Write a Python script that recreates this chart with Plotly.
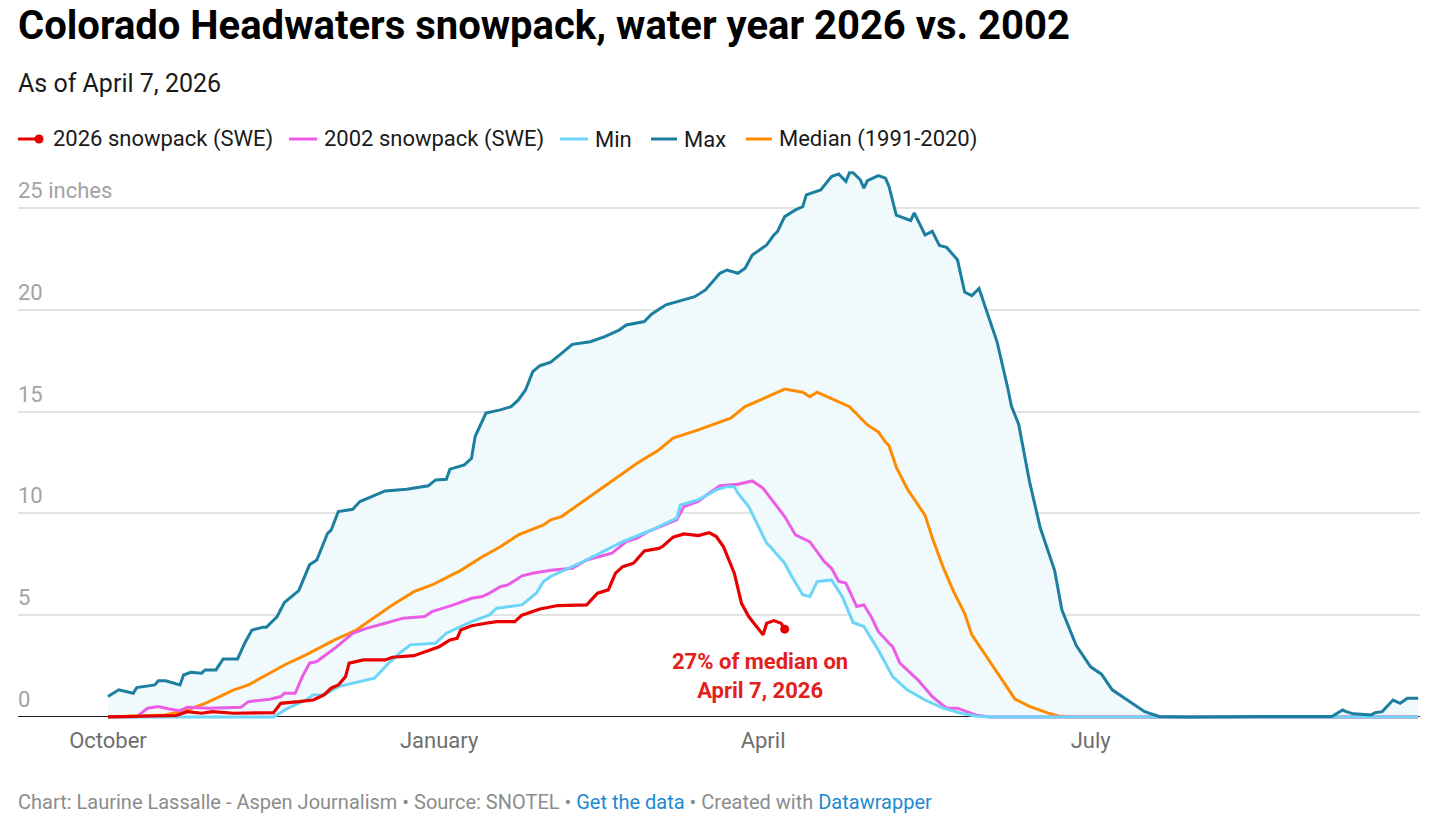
import plotly.graph_objects as go

# ---------------- data (day of water year: 0 = Oct 1, values in inches SWE) -------------
tick_days = [0, 92, 182, 273]
tick_labels = ["October", "January", "April", "July"]
y_ticks = [0, 5, 10, 15, 20, 25]
y_tick_labels = ["0", "5", "10", "15", "20", "25 inches"]

max_day = [0, 3, 7, 8, 13, 14, 16, 20, 21, 23, 26, 27, 30, 32, 36, 38, 40, 43, 44, 47,
           49, 53, 56, 58, 61, 62, 64, 68, 70, 74, 77, 83, 89, 91, 94, 95, 99, 101, 102, 105,
           109, 112, 114, 116, 118, 120, 123, 126, 129, 134, 138, 142, 144, 149, 151, 155, 163, 166, 170, 172,
           175, 177, 179, 183, 185, 186, 188, 191, 193, 194, 198, 201, 203, 205, 206, 207, 209, 210, 211, 214,
           216, 217, 219, 223, 224, 227, 229, 231, 233, 236, 238, 240, 242, 244, 247, 250, 251, 253, 256, 259,
           263, 265, 269, 273, 276, 279, 284, 288, 292, 300, 320, 340, 343, 344, 346, 351, 352, 354, 357, 359,
           361, 364]
max_val = [1.0, 1.33, 1.16, 1.44, 1.57, 1.78, 1.78, 1.57, 2.06, 2.19, 2.15, 2.31, 2.31, 2.85, 2.85, 3.63, 4.27, 4.4, 4.4, 4.93,
           5.62, 6.2, 7.47, 7.71, 9.02, 9.18, 10.09, 10.2, 10.58, 10.9, 11.1, 11.18, 11.35, 11.64, 11.67, 12.17, 12.38, 12.7, 13.77, 14.92,
           15.08, 15.24, 15.57, 16.06, 16.96, 17.25, 17.42, 17.86, 18.3, 18.43, 18.68, 19.0, 19.25, 19.42, 19.78, 20.24, 20.64, 20.97, 21.79, 21.95,
           21.79, 22.04, 22.69, 23.18, 23.67, 23.84, 24.57, 24.9, 25.06, 25.64, 25.88, 26.54, 26.67, 26.3, 26.73, 26.73, 26.38, 25.97, 26.34, 26.59,
           26.46, 26.04, 24.64, 24.38, 24.76, 23.67, 23.85, 23.15, 23.06, 22.45, 20.87, 20.69, 21.04, 19.99, 18.42, 16.13, 15.25, 14.38, 11.57, 9.29,
           7.19, 5.26, 3.5, 2.46, 2.1, 1.33, 0.75, 0.26, 0.02, 0.0, 0.02, 0.02, 0.34, 0.26, 0.15, 0.1, 0.21, 0.26, 0.83, 0.67,
           0.92, 0.92]

median_day = [0, 16, 22, 27, 35, 39, 44, 49, 55, 63, 69, 75, 79, 85, 90, 98, 104, 109, 114, 121,
              123, 126, 132, 139, 147, 153, 157, 164, 170, 173, 177, 183, 188, 193, 195, 197, 203, 206, 211, 214,
              216, 217, 219, 222, 227, 229, 232, 235, 238, 240, 244, 248, 252, 256, 261, 264, 268, 364]
median_val = [0, 0.1, 0.34, 0.67, 1.33, 1.57, 2.06, 2.55, 3.05, 3.78, 4.27, 5.01, 5.5, 6.15, 6.48, 7.2, 7.87, 8.36, 8.94, 9.43,
              9.68, 9.84, 10.58, 11.48, 12.46, 13.11, 13.69, 14.1, 14.5, 14.67, 15.24, 15.73, 16.1, 15.95, 15.73, 15.95, 15.46, 15.24, 14.34, 14.0,
              13.5, 13.32, 12.27, 11.22, 9.9, 8.8, 7.36, 6.13, 5.08, 4.03, 2.98, 1.92, 0.87, 0.52, 0.2, 0.05, 0, 0]

min_day = [0, 46, 50, 55, 57, 60, 64, 70, 74, 78, 81, 84, 91, 94, 97, 101, 106, 108, 115, 119,
           121, 123, 132, 143, 151, 158, 159, 164, 169, 172, 174, 175, 178, 183, 184, 188, 190, 193, 195, 197,
           201, 204, 207, 210, 214, 218, 222, 227, 232, 237, 241, 245, 364]
min_val = [0, 0, 0.43, 0.83, 1.08, 1.08, 1.49, 1.73, 1.9, 2.64, 3.13, 3.54, 3.62, 4.11, 4.36, 4.68, 5.01, 5.34, 5.5, 6.08,
           6.65, 6.9, 7.63, 8.61, 9.18, 9.76, 10.41, 10.66, 11.15, 11.31, 11.31, 10.99, 10.33, 8.53, 8.36, 7.55, 6.89, 6.0, 5.91, 6.65,
           6.73, 5.91, 4.64, 4.44, 3.29, 1.98, 1.33, 0.83, 0.43, 0.18, 0.05, 0, 0]

y2002_day = [0, 8, 11, 14, 17, 20, 22, 28, 37, 39, 45, 48, 49, 52, 54, 56, 58, 63, 68, 72,
             77, 82, 88, 90, 96, 101, 104, 106, 109, 111, 114, 115, 118, 123, 129, 133, 140, 144, 147, 150,
             154, 158, 160, 164, 167, 170, 175, 179, 182, 188, 191, 193, 195, 199, 201, 203, 205, 208, 210, 212,
             214, 217, 218, 220, 225, 229, 233, 236, 241, 245, 364]
y2002_val = [0, 0, 0.43, 0.51, 0.39, 0.31, 0.48, 0.43, 0.48, 0.75, 0.87, 1.0, 1.16, 1.16, 1.98, 2.64, 2.72, 3.37, 4.11, 4.36,
             4.6, 4.85, 4.93, 5.17, 5.5, 5.83, 5.91, 6.08, 6.4, 6.48, 6.81, 6.93, 7.06, 7.2, 7.3, 7.71, 8.04, 8.61, 8.78, 9.1,
             9.38, 9.68, 10.33, 10.58, 10.99, 11.35, 11.43, 11.59, 11.23, 9.84, 8.94, 8.78, 8.6, 7.63, 7.3, 6.65, 6.57, 5.42, 5.5, 4.93,
             4.2, 3.62, 3.45, 2.64, 1.82, 1.0, 0.43, 0.43, 0.1, 0, 0]

y2026_day = [0, 19, 22, 26, 29, 35, 46, 48, 53, 57, 60, 62, 64, 66, 67, 71, 77, 79, 85, 88,
             92, 95, 97, 98, 101, 105, 108, 113, 115, 120, 125, 133, 136, 139, 141, 143, 146, 149, 153, 154,
             157, 160, 164, 167, 169, 171, 174, 176, 178, 182, 183, 185, 187, 188]
y2026_val = [0, 0.07, 0.26, 0.18, 0.26, 0.18, 0.21, 0.67, 0.75, 0.83, 1.08, 1.41, 1.57, 1.98, 2.64, 2.8, 2.8, 2.93, 3.01, 3.21,
             3.45, 3.78, 3.86, 4.27, 4.48, 4.6, 4.68, 4.68, 5.0, 5.3, 5.47, 5.5, 6.08, 6.24, 7.06, 7.38, 7.55, 8.15, 8.28, 8.36,
             8.83, 8.99, 8.91, 9.05, 8.86, 8.36, 7.06, 5.58, 4.93, 4.03, 4.6, 4.73, 4.6, 4.31]

# ---------------- styling ----------------
C_2026 = "#e60000"
C_2002 = "#ec5de6"
C_MIN = "#6dd5f7"
C_MAX = "#1d7f9f"
C_MED = "#ff8c00"
FILL = "#f0fafc"
FONT = "Roboto"

W, H = 1436, 823
ML, MR, MT, MB = 18, 16, 157, 102
PW, PH = W - ML - MR, H - MT - MB


def px(x):
    return (x - ML) / PW


def py(y):
    return (H - MB - y) / PH


fig = go.Figure()

# band between min and max
fig.add_trace(go.Scatter(x=min_day, y=min_val, mode="lines", line=dict(width=0, color=FILL),
                         hoverinfo="skip", showlegend=False))
fig.add_trace(go.Scatter(x=max_day, y=max_val, mode="lines", line=dict(width=0, color=FILL),
                         fill="tonexty", fillcolor=FILL, hoverinfo="skip", showlegend=False))

# lines
fig.add_trace(go.Scatter(x=median_day, y=median_val, mode="lines", name="Median (1991-2020)",
                         line=dict(color=C_MED, width=3)))
fig.add_trace(go.Scatter(x=y2002_day, y=y2002_val, mode="lines", name="2002 snowpack (SWE)",
                         line=dict(color=C_2002, width=3)))
fig.add_trace(go.Scatter(x=min_day, y=min_val, mode="lines", name="Min",
                         line=dict(color=C_MIN, width=3)))
fig.add_trace(go.Scatter(x=max_day, y=max_val, mode="lines", name="Max",
                         line=dict(color=C_MAX, width=3)))
fig.add_trace(go.Scatter(x=y2026_day, y=y2026_val, mode="lines", name="2026 snowpack (SWE)",
                         line=dict(color=C_2026, width=3.2)))
fig.add_trace(go.Scatter(x=[y2026_day[-1]], y=[y2026_val[-1]], mode="markers",
                         marker=dict(color=C_2026, size=9), showlegend=False, cliponaxis=False))

annotations = []
shapes = []

# title, subtitle
annotations.append(dict(text="<b>Colorado Headwaters snowpack, water year 2026 vs. 2002</b>",
                        x=px(16), y=py(25), xref="paper", yref="paper", xanchor="left", yanchor="middle",
                        showarrow=False, font=dict(family=FONT, size=40, color="#000000")))
annotations.append(dict(text="As of April 7, 2026",
                        x=px(16), y=py(83), xref="paper", yref="paper", xanchor="left", yanchor="middle",
                        showarrow=False, font=dict(family=FONT, size=25, color="#1a1a1a")))

# legend (custom, Datawrapper style)
legend_items = [
    ("2026 snowpack (SWE)", C_2026, 18, 39, 51, True),
    ("2002 snowpack (SWE)", C_2002, 289, 317, 322, False),
    ("Min", C_MIN, 560, 588, 593, False),
    ("Max", C_MAX, 651, 677, 682, False),
    ("Median (1991-2020)", C_MED, 746, 772, 777, False),
]
LEG_Y = 139
for label, col, x0, x1, tx, dot in legend_items:
    shapes.append(dict(type="line", xref="paper", yref="paper", x0=px(x0), x1=px(x1),
                       y0=py(LEG_Y), y1=py(LEG_Y), line=dict(color=col, width=3)))
    if dot:
        shapes.append(dict(type="circle", xref="paper", yref="paper",
                           x0=px(x1 - 4.5), x1=px(x1 + 4.5), y0=py(LEG_Y - 4.5), y1=py(LEG_Y + 4.5),
                           fillcolor=col, line=dict(color=col, width=0)))
    annotations.append(dict(text=label, x=px(tx), y=py(LEG_Y), xref="paper", yref="paper",
                            xanchor="left", yanchor="middle", showarrow=False,
                            font=dict(family=FONT, size=22, color="#1a1a1a")))

# y tick labels placed above grid lines (Datawrapper style)
for v, lab in zip(y_ticks, y_tick_labels):
    annotations.append(dict(text=lab, x=px(16), y=v, xref="paper", yref="y", xanchor="left", yanchor="bottom",
                            yshift=3, showarrow=False, font=dict(family=FONT, size=22, color="#a3a3a3")))

# callout
annotations.append(dict(text="<b>27% of median on<br>April 7, 2026</b>", x=px(760), y=py(676),
                        xref="paper", yref="paper", xanchor="center", yanchor="middle", showarrow=False,
                        align="center", font=dict(family=FONT, size=22, color="#e3211c")))

# footer
annotations.append(dict(
    text=("Chart: Laurine Lassalle - Aspen Journalism • Source: SNOTEL • "
          "<span style='color:#1d8ad0'>Get the data</span> • Created with "
          "<span style='color:#1d8ad0'>Datawrapper</span>"),
    x=px(16), y=py(802), xref="paper", yref="paper", xanchor="left", yanchor="middle", showarrow=False,
    font=dict(family=FONT, size=20, color="#8c8c8c")))

fig.update_layout(
    width=W, height=H,
    margin=dict(l=ML, r=MR, t=MT, b=MB, pad=0),
    paper_bgcolor="white", plot_bgcolor="white",
    showlegend=False,
    font=dict(family=FONT),
    annotations=annotations,
    shapes=shapes,
    xaxis=dict(range=[-25, 364.5], tickmode="array", tickvals=tick_days, ticktext=tick_labels,
               showgrid=False, zeroline=False, showline=False, ticks="",
               tickfont=dict(family=FONT, size=22, color="#6e6e6e"), ticklabelstandoff=4),
    yaxis=dict(range=[-0.2, 27.5], tickmode="array", tickvals=y_ticks, showticklabels=False,
               showgrid=True, gridcolor="#e3e3e3", gridwidth=1.5,
               zeroline=True, zerolinecolor="#222222", zerolinewidth=1.2, ticks=""),
)

fig.write_html("out.html", config={"displayModeBar": False},
               post_script="document.body.style.margin='0';document.body.style.overflow='hidden';")
